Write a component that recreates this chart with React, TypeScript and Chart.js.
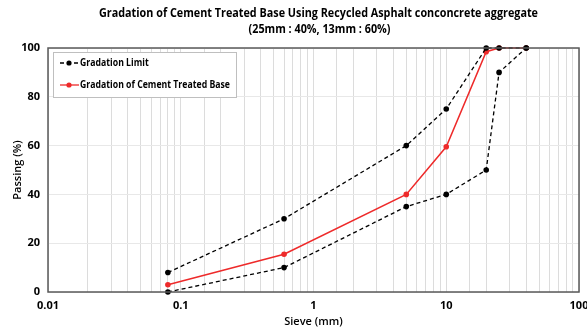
import React, { useEffect, useRef } from "react";
import { Chart, registerables } from "chart.js";

Chart.register(...registerables);

const titleLines = [
  "Gradation of Cement Treated Base Using Recycled Asphalt conconcrete aggregate",
  "(25mm : 40%, 13mm : 60%)",
];
const sieveSizes = [0.08, 0.6, 5, 10, 20, 25, 40];
const upperLimit = [8, 30, 60, 75, 100, 100, 100];
const lowerLimit = [0, 10, 35, 40, 50, 90, 100];
const ctbGradation = [3, 15.5, 40, 59.5, 98.5, 100, 100];
const xTickLabels = [0.01, 0.1, 1, 10, 100];
const yTicks = [0, 20, 40, 60, 80, 100];
const legendLabels = ["Gradation Limit", "Gradation of Cement Treated Base"];

const FONT = "'Open Sans', 'Noto Sans', sans-serif";
const RED = "#ee2a2a";

const toPoints = (ys: number[]) => sieveSizes.map((x, i) => ({ x, y: ys[i] }));

// draw text at a given font size, squeezed horizontally by factor sx
const drawText = (ctx: any, text: string, x: number, y: number, size: number, sx: number, align: string) => {
  ctx.save();
  ctx.font = `bold ${size}px ${FONT}`;
  ctx.textAlign = align;
  ctx.textBaseline = "middle";
  ctx.translate(x, y);
  ctx.scale(sx, 1);
  ctx.fillText(text, 0, 0);
  ctx.restore();
};

const squeeze = (ctx: any, text: string, size: number, target: number) => {
  ctx.font = `bold ${size}px ${FONT}`;
  return target / ctx.measureText(text).width;
};

const framePlugin = {
  id: "frame",
  afterDraw(chart: any) {
    const { ctx, chartArea: a } = chart;
    ctx.save();
    ctx.strokeStyle = "#595959";
    ctx.lineWidth = 1.5;
    ctx.strokeRect(a.left, a.top, a.right - a.left, a.bottom - a.top);
    // title
    ctx.fillStyle = "#000";
    const tSize = 12.5;
    const tsx = squeeze(ctx, titleLines[0], tSize, 439);
    drawText(ctx, titleLines[0], 318.5, 13, tSize, tsx, "center");
    drawText(ctx, titleLines[1], 319.5, 29, tSize, tsx, "center");
    // legend
    const lx = a.left + 5;
    const ly = a.top + 4;
    ctx.fillStyle = "#fff";
    ctx.fillRect(lx, ly, 183, 45);
    ctx.strokeStyle = "#bfbfbf";
    ctx.lineWidth = 1;
    ctx.strokeRect(lx + 0.5, ly + 0.5, 183, 45);
    const items = [
      { color: "#000", dash: [4, 3], y: ly + 11 },
      { color: RED, dash: [], y: ly + 33 },
    ];
    const lSize = 11;
    const lsx = squeeze(ctx, legendLabels[1], lSize, 150);
    items.forEach((it, i) => {
      ctx.strokeStyle = it.color;
      ctx.lineWidth = 1.3;
      ctx.setLineDash(it.dash);
      ctx.beginPath();
      ctx.moveTo(lx + 7, it.y);
      ctx.lineTo(lx + 26, it.y);
      ctx.stroke();
      ctx.setLineDash([]);
      ctx.fillStyle = it.color;
      ctx.beginPath();
      ctx.arc(lx + 16, it.y, 2.6, 0, Math.PI * 2);
      ctx.fill();
      ctx.fillStyle = "#000";
      drawText(ctx, legendLabels[i], lx + 27, it.y, lSize, lsx, "left");
    });
    ctx.restore();
  },
};

const lineStyle = {
  borderWidth: 1.3,
  pointRadius: 2.8,
  pointHoverRadius: 2.8,
  pointBorderWidth: 0,
  clip: false as any,
};

export default function App() {
  const ref = useRef<HTMLCanvasElement>(null);
  useEffect(() => {
    if (!ref.current) return;
    const chart = new Chart(ref.current, {
      type: "line",
      data: {
        datasets: [
          {
            label: "Upper",
            data: toPoints(upperLimit),
            borderColor: "#000",
            backgroundColor: "#000",
            borderDash: [4, 3],
            ...lineStyle,
          },
          {
            label: "Lower",
            data: toPoints(lowerLimit),
            borderColor: "#000",
            backgroundColor: "#000",
            borderDash: [4, 3],
            ...lineStyle,
          },
          {
            label: "CTB",
            data: toPoints(ctbGradation),
            borderColor: RED,
            backgroundColor: RED,
            ...lineStyle,
            borderWidth: 1.5,
          },
        ],
      },
      options: {
        animation: false,
        responsive: true,
        maintainAspectRatio: false,
        layout: { padding: { left: 0, top: 48, right: 8, bottom: 0 } },
        plugins: {
          legend: { display: false },
          title: { display: false },
          tooltip: { enabled: false },
        },
        scales: {
          x: {
            type: "logarithmic",
            min: 0.01,
            max: 100,
            afterFit: (s: any) => {
              s.height = 38;
              s.paddingLeft = 0;
              s.paddingRight = 0;
            },
            grid: { color: "#dcdcdc", drawTicks: false },
            border: { display: false },
            ticks: {
              autoSkip: false,
              maxRotation: 0,
              padding: 7,
              color: "#000",
              font: { family: FONT, size: 11, weight: "bold" },
              callback: (v: any) => {
                const n = Number(v);
                const hit = xTickLabels.find((t) => Math.abs(Math.log10(n) - Math.log10(t)) < 1e-6);
                return hit !== undefined ? String(hit) : "";
              },
            },
            title: {
              display: true,
              text: "Sieve (mm)",
              color: "#000",
              font: { family: FONT, size: 11, weight: "600" },
              padding: { top: 0, bottom: 2 },
            },
          },
          y: {
            min: 0,
            max: 100,
            afterFit: (s: any) => {
              s.width = 48;
              s.paddingTop = 0;
              s.paddingBottom = 0;
            },
            afterBuildTicks: (s: any) => {
              s.ticks = yTicks.map((v) => ({ value: v }));
            },
            grid: { color: "#e8e8e8", drawTicks: false },
            border: { display: false },
            ticks: {
              padding: 8,
              color: "#000",
              font: { family: FONT, size: 11, weight: "bold" },
            },
            title: {
              display: true,
              text: "Passing (%)",
              color: "#000",
              font: { family: FONT, size: 11, weight: "600" },
              padding: { top: 11, bottom: 0 },
            },
          },
        },
      },
      plugins: [framePlugin],
    });
    return () => chart.destroy();
  }, []);
  return (
    <div style={{ position: "fixed", left: 0, top: 0, width: 587, height: 330, background: "#fff" }}>
      <canvas ref={ref} />
    </div>
  );
}
